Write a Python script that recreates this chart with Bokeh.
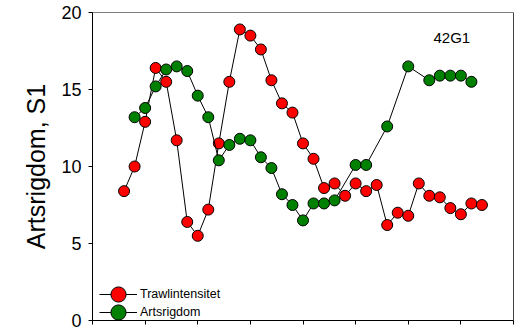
from bokeh.plotting import figure
from bokeh.models import (Range1d, FixedTicker, Legend, LegendItem, Label, Span)
from bokeh.embed import file_html
from bokeh.resources import INLINE

# Time positions (no labels on the x axis) and the two series
red_x = list(range(3, 38))
red_y = [8.4, 10.0, 12.9, 16.4, 15.5, 11.7, 6.4, 5.5, 7.2, 11.5,
         15.5, 18.9, 18.5, 17.6, 15.6, 14.1, 13.5, 11.5, 10.5, 8.6,
         8.9, 8.1, 8.9, 8.4, 8.8, 6.2, 7.0, 6.8, 8.9, 8.1,
         8.0, 7.3, 6.9, 7.6, 7.5]

green_x = [4, 5, 6, 7, 8, 9, 10, 11, 12, 13, 14, 15, 16, 17, 18, 19, 20,
           21, 22, 23, 25, 26, 28, 30, 32, 33, 34, 35, 36]
green_y = [13.2, 13.8, 15.2, 16.3, 16.5, 16.2, 14.6, 13.2, 10.4, 11.4,
           11.8, 11.7, 10.6, 9.9, 8.2, 7.5, 6.5, 7.6, 7.6, 7.8,
           10.1, 10.1, 12.6, 16.5, 15.6, 15.9, 15.9, 15.9, 15.5]

x_ticks = [0, 5, 10, 15, 20, 25, 30, 35, 40]
y_ticks = [0, 5, 10, 15, 20]

series_names = ["Trawlintensitet", "Artsrigdom"]
panel_name = "42G1"
y_title = "Artsrigdom, S1"

FONT = "Liberation Sans"

p = figure(width=514, height=333, output_backend="svg", toolbar_location=None,
           x_range=Range1d(0, 40), y_range=Range1d(0, 20),
           min_border_left=92, min_border_right=1,
           min_border_top=12, min_border_bottom=13)

p.background_fill_color = "white"
p.border_fill_color = "white"
p.outline_line_color = "#808080"
p.outline_line_width = 1
p.xgrid.visible = False
p.ygrid.visible = False

# x axis: ticks only
p.xaxis.ticker = FixedTicker(ticks=x_ticks)
p.xaxis.major_label_overrides = {t: "" for t in x_ticks}
p.xaxis.major_label_text_font_size = "1px"
p.xaxis.major_label_standoff = 0
p.xaxis.major_tick_in = 0
p.xaxis.major_tick_out = 4
p.xaxis.minor_tick_line_color = None
p.xaxis.axis_line_color = "black"
p.xaxis.major_tick_line_color = "black"

# y axis
p.yaxis.ticker = FixedTicker(ticks=y_ticks)
p.yaxis.major_tick_in = 0
p.yaxis.major_tick_out = 4
p.yaxis.minor_tick_line_color = None
p.yaxis.axis_line_color = "black"
p.yaxis.major_tick_line_color = "black"
p.yaxis.major_label_text_font = FONT
p.yaxis.major_label_text_font_size = "18px"
p.yaxis.major_label_text_color = "black"
p.yaxis.major_label_standoff = 7
p.yaxis.axis_label = y_title
p.yaxis.axis_label_text_font = FONT
p.yaxis.axis_label_text_font_size = "25px"
p.yaxis.axis_label_text_font_style = "normal"
p.yaxis.axis_label_text_color = "black"
p.yaxis.axis_label_standoff = 8

# right frame edge in black
p.add_layout(Span(location=40, dimension="height", line_color="black", line_width=1))

# series
r_line = p.line(red_x, red_y, line_color="black", line_width=1)
r_pts = p.scatter(red_x, red_y, size=11, marker="circle",
                  fill_color="#ff0000", line_color="black", line_width=1)
g_line = p.line(green_x, green_y, line_color="black", line_width=1)
g_pts = p.scatter(green_x, green_y, size=11, marker="circle",
                  fill_color="#008000", line_color="black", line_width=1)


def legend_row(label, renderers, offset_y):
    # one legend entry; rows stacked closer than the glyph box allows
    return Legend(items=[LegendItem(label=label, renderers=renderers)],
                  location=(7, offset_y), orientation="vertical",
                  glyph_width=38, glyph_height=38, spacing=0,
                  label_standoff=3, padding=0, margin=0,
                  border_line_color=None, background_fill_alpha=0,
                  label_text_font=FONT, label_text_font_size="12.5px",
                  label_text_color="black")


p.add_layout(legend_row(series_names[0], [r_line, r_pts], 7), "center")
p.add_layout(legend_row(series_names[1], [g_line, g_pts], -11), "center")

p.add_layout(Label(x=32.4, y=18.4, text=panel_name, text_font=FONT,
                   text_font_size="15px", text_color="black",
                   text_align="left", text_baseline="alphabetic"))

open("out.html", "w").write(file_html(p, INLINE))
